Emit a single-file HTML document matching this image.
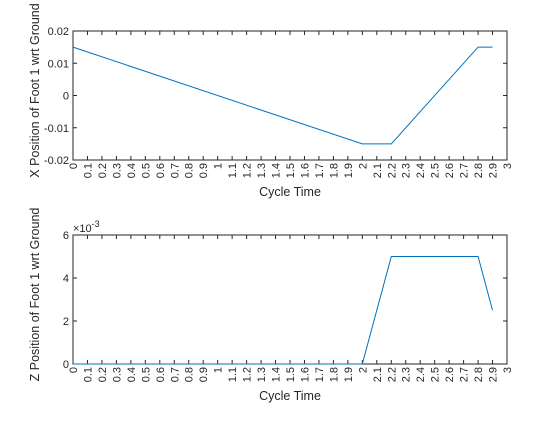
<!DOCTYPE html>
<html><head><meta charset="utf-8"><style>
body{margin:0;background:#fff;font-family:"Liberation Sans",sans-serif}
svg text{font-family:"Liberation Sans",sans-serif;fill:#262626}
</style></head><body>
<svg id="c" width="560" height="420"></svg>
<script>
const xTicks=[0,0.1,0.2,0.3,0.4,0.5,0.6,0.7,0.8,0.9,1,1.1,1.2,1.3,1.4,1.5,1.6,1.7,1.8,1.9,2,2.1,2.2,2.3,2.4,2.5,2.6,2.7,2.8,2.9,3];
const xTickLabels=["0","0.1","0.2","0.3","0.4","0.5","0.6","0.7","0.8","0.9","1","1.1","1.2","1.3","1.4","1.5","1.6","1.7","1.8","1.9","2","2.1","2.2","2.3","2.4","2.5","2.6","2.7","2.8","2.9","3"];
const topX=[0,2.0,2.2,2.8,2.9];
const topY=[0.015,-0.015,-0.015,0.015,0.015];
const topYTicks=[-0.02,-0.01,0,0.01,0.02];
const topYLabels=["-0.02","-0.01","0","0.01","0.02"];
const botX=[0,2.0,2.2,2.8,2.9];
const botY=[0,0,0.005,0.005,0.0025];
const botYTicks=[0,0.002,0.004,0.006];
const botYLabels=["0","2","4","6"];
const svg=document.getElementById('c');
const NS='http://www.w3.org/2000/svg';
function mk(t,a,txt){const e=document.createElementNS(NS,t);for(const k in a)e.setAttribute(k,a[k]);if(txt!==undefined)e.textContent=txt;svg.appendChild(e);return e;}
function panel(name,top,bot,ymin,ymax,yt,yl,xs,ys,ylabel){
  const L=73,R=507;
  const sx=v=>L+(v-0)/3*(R-L);
  const sy=v=>bot-(v-ymin)/(ymax-ymin)*(bot-top);
  const box=mk('rect',{x:L,y:top,width:R-L,height:bot-top,fill:'#fff',stroke:'#262626','stroke-width':1});
  
  
  xTicks.forEach((v,i)=>{
    const x=sx(v);
    mk('line',{x1:x,y1:bot,x2:x,y2:bot-4,stroke:'#262626'});
    mk('line',{x1:x,y1:top,x2:x,y2:top+4,stroke:'#262626'});
    const t=mk('text',{x:0,y:0,'font-size':11,'text-anchor':'end',transform:`translate(${x+4},${bot+3}) rotate(-90)`},xTickLabels[i]);
    
    
  });
  yt.forEach((v,i)=>{
    const y=sy(v);
    mk('line',{x1:L,y1:y,x2:L+4,y2:y,stroke:'#262626'});
    mk('line',{x1:R,y1:y,x2:R-4,y2:y,stroke:'#262626'});
    const t=mk('text',{x:L-4,y:y+4,'font-size':11,'text-anchor':'end'},yl[i]);
    
    
  });
  const pts=xs.map((v,i)=>sx(v).toFixed(1)+','+sy(ys[i]).toFixed(1)).join(' ');
  const pl=mk('polyline',{points:pts,fill:'none',stroke:'#0072BD','stroke-width':1});
  
  
  const xl=mk('text',{x:(L+R)/2,y:bot+36,'font-size':12.5,'text-anchor':'middle'},'Cycle Time');
  
  
  const yl2=mk('text',{x:0,y:0,'font-size':12.5,'text-anchor':'middle',transform:`translate(39,${(top+bot)/2-5}) rotate(-90)`},ylabel);
  
  
}
panel('top-plot',31,160,-0.02,0.02,topYTicks,topYLabels,topX,topY,'X Position of Foot 1 wrt Ground');
panel('bottom-plot',235,364,0,0.006,botYTicks,botYLabels,botX,botY,'Z Position of Foot 1 wrt Ground');
const ex=mk('text',{x:73,y:232,'font-size':11},'');
ex.innerHTML='×10<tspan dy="-5" font-size="9">-3</tspan>';


</script>
</body></html>
